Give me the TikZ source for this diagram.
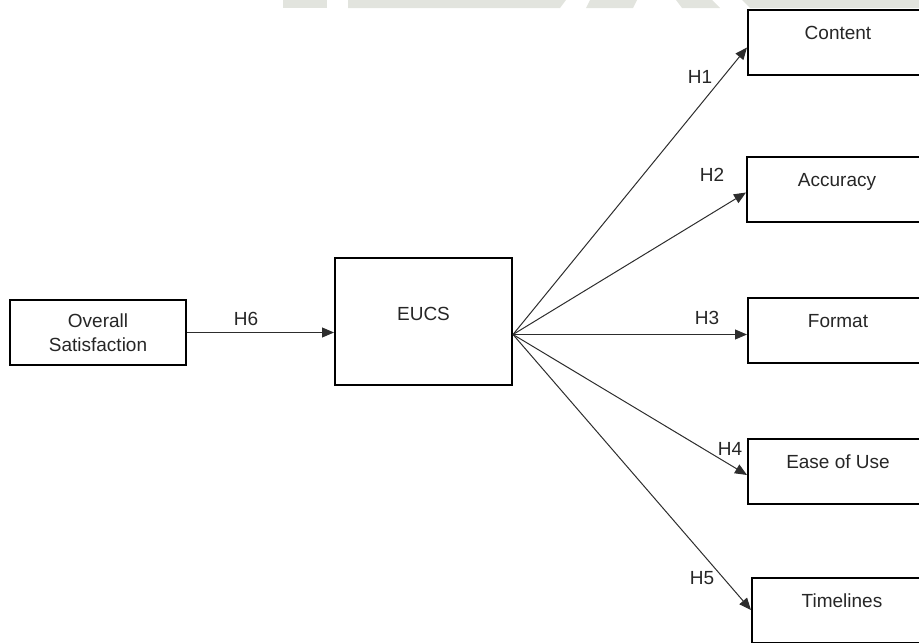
\documentclass[tikz,border=0pt]{standalone}
\usepackage{fontspec}
\setmainfont{Liberation Sans}
\usetikzlibrary{positioning, calc, arrows.meta}
\definecolor{wmgray}{RGB}{226,228,222}
\definecolor{linkgray}{RGB}{45,45,45}

\tikzset{
  box/.style={draw, line width=2pt, inner sep=0pt, align=center},
  factor/.style={box, minimum width=180pt, text height=13pt, text depth=19pt, inner ysep=16.5pt},
  link/.style={draw=linkgray, line width=1pt, -{Triangle[length=12pt,width=10pt]}},
}

\begin{document}
\begin{tikzpicture}[x=1pt, y=-1pt, font=\fontsize{19}{24}\selectfont, text=black!85]
			\useasboundingbox (0,0) rectangle (919,643);
			% watermark remains along the top edge
			\fill[wmgray] (283,0) rectangle (327,8);
			\fill[wmgray] (348,0) -- (566,0) -- (560,8) -- (348,8) -- cycle;
			\fill[wmgray] (590,0) -- (637,0) -- (633,8) -- (586,8) -- cycle;
			\fill[wmgray] (676,0) -- (712,0) -- (720,8) -- (682,8) -- cycle;
			\fill[wmgray] (742,0) -- (919,0) -- (919,8) -- (750,8) -- cycle;

			\node[box, minimum width=176pt, minimum height=65pt] (sat) at (98,332.5) {Overall\\Satisfaction};
			\node[box, minimum width=177pt, text height=13pt, text depth=16pt, inner ysep=49pt] (eucs) at (423.5,321.5) {EUCS};
			\node[factor] (content) at (838,42.5) {Content};
			\node[factor] (accuracy) at (837,189.5) {Accuracy};
			\node[factor] (format) at (838,330.5) {Format};
			\node[factor] (ease) at (838,471) {Ease of Use};
			\node[factor] (timelines) at (842,610) {Timelines};

			\coordinate (hub) at ([yshift=-2pt]sat.east -| eucs.east);
			\draw[link] (sat.east) -- (sat.east -| eucs.west);
			\draw[link] (hub) -- ([yshift=-5pt]content.west);
			\draw[link] (hub) -- ([yshift=-3pt]accuracy.west);
			\draw[link] (hub) -- ([yshift=-4pt]format.west);
			\draw[link] (hub) -- ([yshift=-4pt]ease.west);
			\draw[link] (hub) -- (timelines.west);

			\node (h6) at (246,319) {H6};
			\node (h1) at (700,77) {H1};
			\node (h2) at (712,175) {H2};
			\node (h3) at (707,318) {H3};
			\node (h4) at (730,449) {H4};
			\node (h5) at (702,578) {H5};
		\end{tikzpicture}
\end{document}
